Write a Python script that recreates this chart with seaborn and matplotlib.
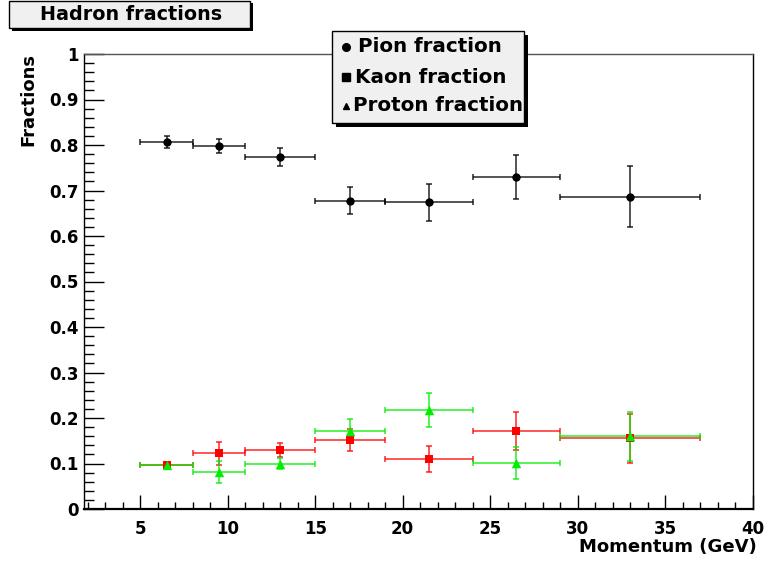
import matplotlib
matplotlib.use("Agg")
import matplotlib.pyplot as plt
from matplotlib.patches import Rectangle
from matplotlib.lines import Line2D
from matplotlib.ticker import MultipleLocator
import seaborn as sns
import pandas as pd

# ---- data ----
momentum = [6.5, 9.5, 13.0, 17.0, 21.5, 26.5, 33.0]
mom_err = [1.5, 1.5, 2.0, 2.0, 2.5, 2.5, 4.0]

pion = [0.807, 0.798, 0.773, 0.678, 0.674, 0.730, 0.686]
pion_err = [0.013, 0.016, 0.020, 0.030, 0.040, 0.049, 0.067]

kaon = [0.097, 0.122, 0.129, 0.152, 0.110, 0.171, 0.155]
kaon_err = [0.004, 0.025, 0.015, 0.024, 0.028, 0.042, 0.053]

proton = [0.097, 0.081, 0.099, 0.171, 0.218, 0.102, 0.160]
proton_err = [0.004, 0.024, 0.012, 0.026, 0.037, 0.035, 0.054]

series_labels = ["Pion fraction", "Kaon fraction", "Proton fraction"]
title_text = "Hadron fractions"
x_label = "Momentum (GeV)"
y_label = "Fractions"
x_ticks = [5, 10, 15, 20, 25, 30, 35, 40]
y_ticks = [0, 0.1, 0.2, 0.3, 0.4, 0.5, 0.6, 0.7, 0.8, 0.9, 1]
y_tick_labels = ["0", "0.1", "0.2", "0.3", "0.4", "0.5", "0.6", "0.7",
                 "0.8", "0.9", "1"]

sns.set_theme(style="white")
plt.rcParams["font.family"] = ["DejaVu Sans"]
plt.rcParams["font.weight"] = "bold"
plt.rcParams["text.color"] = "black"
plt.rcParams["axes.labelcolor"] = "black"
plt.rcParams["xtick.color"] = "black"
plt.rcParams["ytick.color"] = "black"

W, H = 764, 562
fig = plt.figure(figsize=(W / 100, H / 100), dpi=100)
fig.patch.set_facecolor("white")


def fx(x):
    return x / W


def fy(y):
    return 1 - y / H


ax = fig.add_axes([fx(84.3), fy(509), fx(752.5) - fx(84.3), fy(54) - fy(509)])
ax.set_facecolor("white")

series = [
    (pion, pion_err, "black", "o", 36),
    (kaon, kaon_err, "#ff0000", "s", 38),
    (proton, proton_err, "#00ee00", "^", 46),
]
for vals, errs, col, mk, sz in series:
    df = pd.DataFrame({"p": momentum, "f": vals})
    ax.errorbar(momentum, vals, xerr=mom_err, yerr=errs, fmt="none",
                ecolor=col, elinewidth=1.1, capsize=2.2, capthick=1.1,
                alpha=0.85, zorder=2)
    sns.scatterplot(data=df, x="p", y="f", ax=ax, color=col, marker=mk,
                    s=sz, linewidth=0, legend=False, zorder=3)

ax.set_xlim(1.8, 40)
ax.set_ylim(0, 1)
ax.xaxis.set_minor_locator(MultipleLocator(1))
ax.yaxis.set_minor_locator(MultipleLocator(0.02))
ax.set_xticks(x_ticks)
ax.set_xticklabels([str(t) for t in x_ticks])
ax.set_yticks(y_ticks)
ax.set_yticklabels(y_tick_labels)
ax.tick_params(axis="both", which="both", direction="in", top=False,
               right=False, left=True, bottom=True, colors="black",
               labelcolor="black", labelsize=12, width=1)
ax.tick_params(axis="y", which="major", length=14.4, pad=4)
ax.tick_params(axis="y", which="minor", length=7.2)
ax.tick_params(axis="x", which="major", length=10, pad=8)
ax.tick_params(axis="x", which="minor", length=5)
for lab in ax.get_xticklabels() + ax.get_yticklabels():
    lab.set_fontweight("bold")
for sp in ax.spines.values():
    sp.set_color("black")
    sp.set_linewidth(1)
ax.spines["top"].set_color("#555555")
ax.spines["bottom"].set_linewidth(1.6)
ax.set_xlabel("")
ax.set_ylabel("")

# axis titles (ROOT-style, at the ends of the axes)
fig.text(fx(757), fy(547.5), x_label, ha="right", va="center",
         fontsize=13, fontweight="bold", color="black")
fig.text(fx(28), fy(53), y_label, ha="center", va="top", rotation=90,
         fontsize=13, fontweight="bold", color="black")

# title box with shadow
fig.add_artist(Rectangle((fx(12), fy(31)), fx(241), fy(3) - fy(31),
                         transform=fig.transFigure, facecolor="black",
                         edgecolor="none", zorder=5))
fig.add_artist(Rectangle((fx(9), fy(28)), fx(241), fy(0.5) - fy(28),
                         transform=fig.transFigure, facecolor="#f0f0f0",
                         edgecolor="black", linewidth=1, zorder=6))
fig.text(fx(131), fy(15), title_text, ha="center", va="center",
         fontsize=13.8, fontweight="bold", color="black", zorder=7)

# legend box with shadow
lx0, lx1, ly0, ly1 = 332, 524, 31, 123
fig.add_artist(Rectangle((fx(lx0 + 4), fy(ly1 + 4)), fx(lx1 - lx0),
                         fy(ly0 + 4) - fy(ly1 + 4),
                         transform=fig.transFigure, facecolor="black",
                         edgecolor="none", zorder=5))
fig.add_artist(Rectangle((fx(lx0), fy(ly1)), fx(lx1 - lx0),
                         fy(ly0) - fy(ly1),
                         transform=fig.transFigure, facecolor="#f0f0f0",
                         edgecolor="black", linewidth=1, zorder=6))
leg_markers = ["o", "s", "^"]
leg_sizes = [5.5, 5.5, 5.0]
row_y = [47, 77, 106]
text_x = [358, 355, 353]
for lab, mk, ms, ry, tx in zip(series_labels, leg_markers, leg_sizes, row_y,
                               text_x):
    fig.add_artist(Line2D([fx(346)], [fy(ry)], marker=mk, markersize=ms,
                          color="black", linestyle="none",
                          transform=fig.transFigure, zorder=7))
    fig.text(fx(tx), fy(ry), lab, ha="left", va="center", fontsize=14.3,
             fontweight="bold", color="black", zorder=7)

fig.savefig("out.png", dpi=100, facecolor="white")
